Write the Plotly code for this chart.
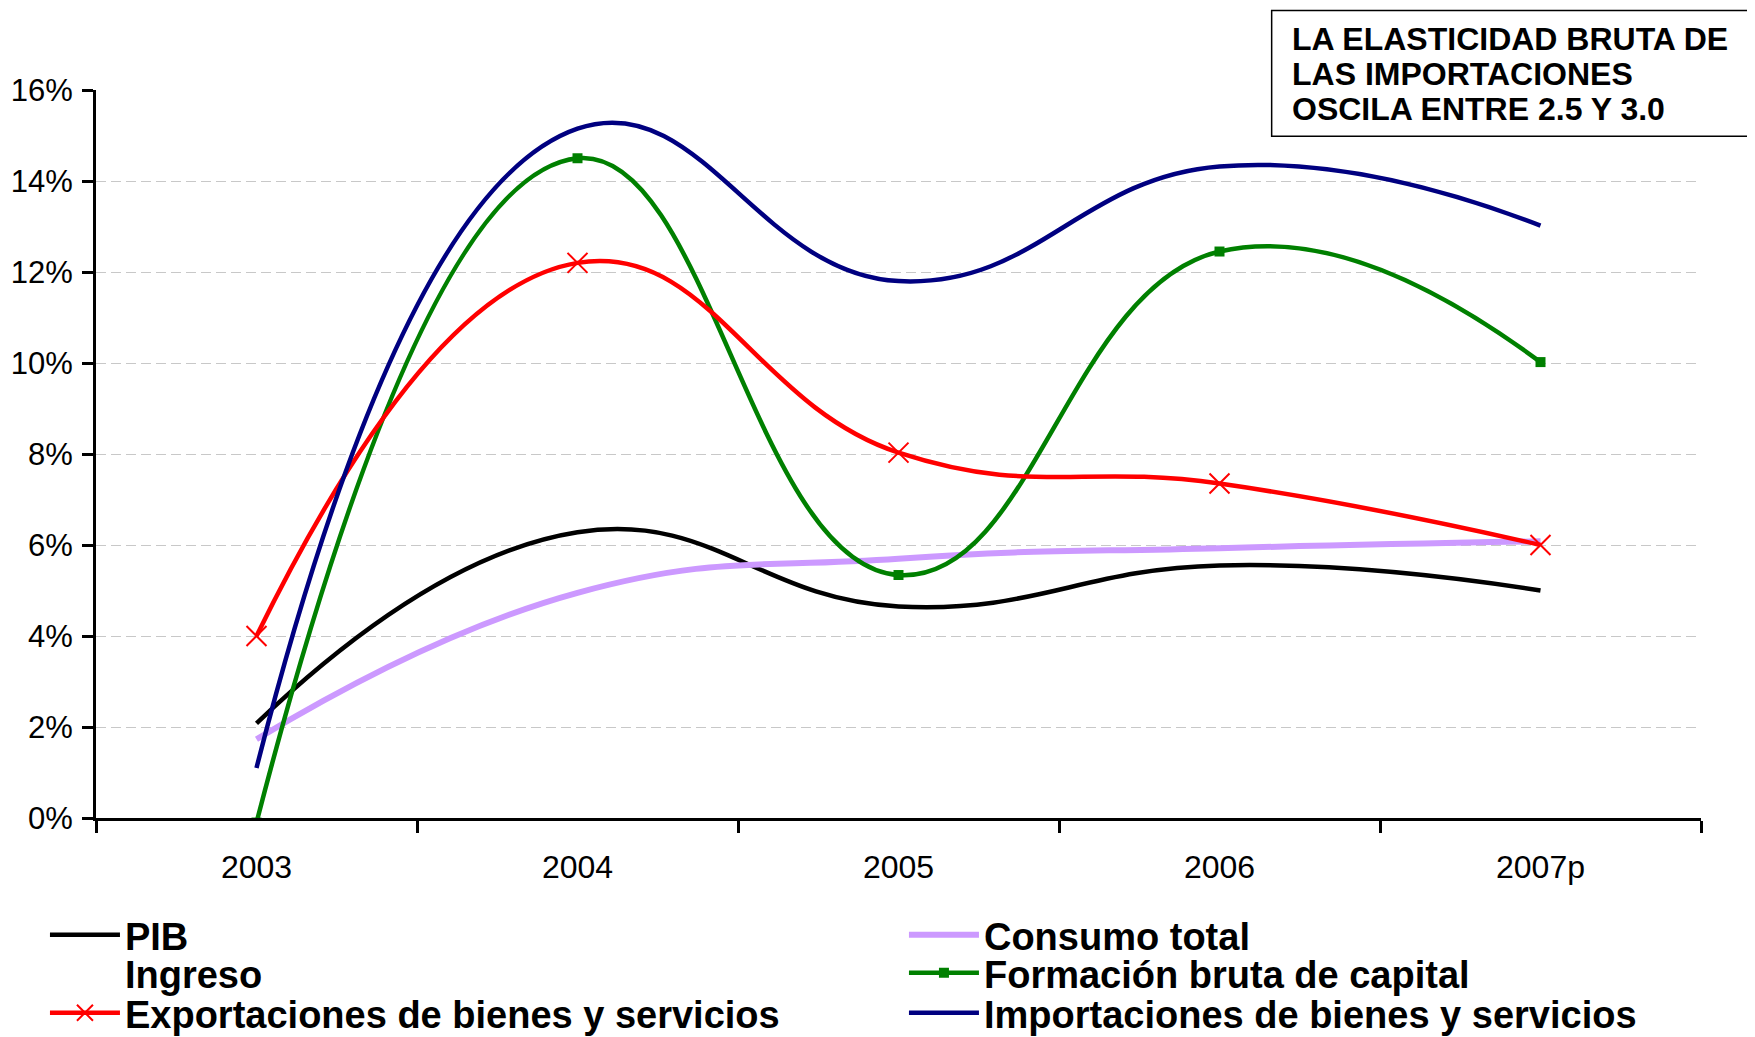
import plotly.graph_objects as go

years = ["2003", "2004", "2005", "2006", "2007p"]

pib = [2.08, 6.28, 4.65, 5.55, 5.0]
consumo = [1.73, 4.95, 5.7, 5.93, 6.08]
ingreso = [None, None, None, None, None]
formacion = [-0.1, 14.5, 5.34, 12.45, 10.02]
exportaciones = [4.0, 12.2, 8.03, 7.35, 6.0]
importaciones = [1.1, 15.15, 11.8, 14.32, 13.02]

y_ticks = [0, 2, 4, 6, 8, 10, 12, 14, 16]
y_tick_labels = ["0%", "2%", "4%", "6%", "8%", "10%", "12%", "14%", "16%"]
note_lines = ["LA ELASTICIDAD BRUTA DE", "LAS IMPORTACIONES", "OSCILA ENTRE 2.5 Y 3.0"]

FONT = "Liberation Sans, Arial, sans-serif"
SMOOTH = 1.3

fig = go.Figure()

def add_line(name, values, color, legend, width=4.5, marker=None):
    kw = dict(mode="lines")
    if marker:
        kw = dict(mode="lines+markers", marker=marker)
    fig.add_trace(go.Scatter(
        x=years, y=values, name=name, legend=legend,
        line=dict(color=color, width=width, shape="spline", smoothing=SMOOTH),
        **kw
    ))

add_line("PIB", pib, "#000000", "legend")
add_line("Consumo total", consumo, "#CC99FF", "legend2", width=6)
fig.add_trace(go.Scatter(x=years, y=ingreso, name="Ingreso", mode="lines", legend="legend3",
                         line=dict(color="rgba(0,0,0,0)", width=4)))
add_line("Formación bruta de capital", formacion, "#008000", "legend4",
         marker=dict(symbol="square", size=10, color="#008000"))
add_line("Exportaciones de bienes y servicios", exportaciones, "#FF0000", "legend5",
         marker=dict(symbol="x-thin", size=20, line=dict(color="#FF0000", width=2)))
add_line("Importaciones de bienes y servicios", importaciones, "#000080", "legend6")

# cuadro de texto
fig.add_shape(type="rect", xref="paper", yref="paper",
              x0=0.7325, x1=1.04, y0=0.9364, y1=1.1093,
              line=dict(color="black", width=1.5), fillcolor="white", layer="above")
for txt, yy in zip(note_lines, [1.0698, 1.0220, 0.9743]):
    fig.add_annotation(text=f"<b>{txt}</b>", xref="paper", yref="paper",
                       x=0.7439, y=yy, xanchor="left", yanchor="middle",
                       showarrow=False, font=dict(size=32, color="black", family=FONT))

fig.update_xaxes(
    type="category", range=[-0.5, 4.5], tickson="boundaries",
    showline=True, linecolor="black", linewidth=3,
    ticks="outside", ticklen=12, tickwidth=3, tickcolor="black",
    showgrid=False, ticklabelstandoff=19,
    tickfont=dict(size=32, color="black", family=FONT),
)
fig.update_yaxes(
    range=[0, 16], tickmode="array", tickvals=y_ticks, ticktext=y_tick_labels,
    showline=True, linecolor="black", linewidth=3,
    ticks="outside", ticklen=11, tickwidth=3, tickcolor="black",
    showgrid=True, gridcolor="#C8C8C8", gridwidth=1, griddash="10px,5px",
    zeroline=False, ticklabelstandoff=3,
    tickfont=dict(size=31, color="black", family=FONT),
)

leg_style = dict(
    orientation="h", xanchor="left", yanchor="middle",
    font=dict(size=38, family=FONT, color="black", weight="bold"),
    itemwidth=70, bgcolor="rgba(0,0,0,0)",
)
leg_x = [-0.0318, 0.5034]
leg_y = [-0.1607, -0.2129, -0.2679]

fig.update_layout(
    width=1747, height=1029,
    margin=dict(l=88, r=54, t=82, b=219, autoexpand=False),
    plot_bgcolor="white", paper_bgcolor="white",
    font=dict(family=FONT, color="black"),
    legend=dict(x=leg_x[0], y=leg_y[0], **leg_style),
    legend2=dict(x=leg_x[1], y=leg_y[0], **leg_style),
    legend3=dict(x=leg_x[0], y=leg_y[1], **leg_style),
    legend4=dict(x=leg_x[1], y=leg_y[1], **leg_style),
    legend5=dict(x=leg_x[0], y=leg_y[2], **leg_style),
    legend6=dict(x=leg_x[1], y=leg_y[2], **leg_style),
    showlegend=True,
)

fig.write_html("out.html")
